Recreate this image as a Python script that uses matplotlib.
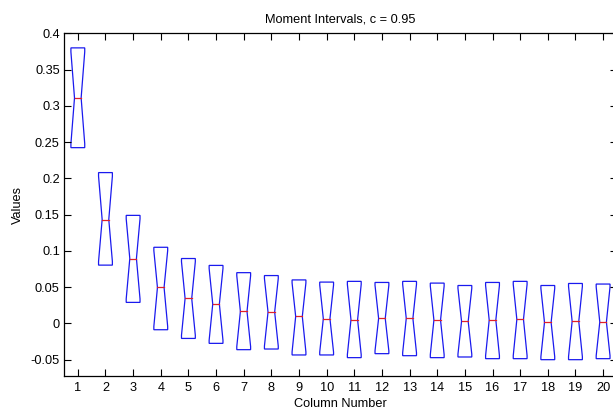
import matplotlib
matplotlib.use("Agg")
import matplotlib.pyplot as plt
from matplotlib.patches import Polygon

# data
columns = list(range(1, 21))
upper = [0.380, 0.208, 0.149, 0.105, 0.0895, 0.080, 0.070, 0.066, 0.060, 0.057,
         0.058, 0.0565, 0.058, 0.0556, 0.0523, 0.0565, 0.058, 0.0523, 0.0551, 0.0543]
median = [0.311, 0.1433, 0.0895, 0.0496, 0.0344, 0.0267, 0.0165, 0.0157, 0.0096, 0.0065,
          0.0051, 0.0069, 0.0069, 0.0046, 0.0028, 0.0046, 0.0055, 0.0014, 0.0028, 0.0019]
lower = [0.2424, 0.0804, 0.029, -0.0087, -0.0207, -0.0275, -0.0362, -0.0353, -0.0435, -0.0435,
         -0.0472, -0.0417, -0.0445, -0.0472, -0.0463, -0.0486, -0.0486, -0.050, -0.050, -0.0486]
yticks = [-0.05, 0, 0.05, 0.1, 0.15, 0.2, 0.25, 0.3, 0.35, 0.4]
ytick_labels = ['-0.05', '0', '0.05', '0.1', '0.15', '0.2', '0.25', '0.3', '0.35', '0.4']

plt.rcParams['font.family'] = ['Liberation Sans', 'DejaVu Sans']
fs = 9.2

fig = plt.figure(figsize=(6.13, 4.12), dpi=100)
ax = fig.add_axes([0.1044, 0.0874, 0.902, 0.8316])

w = 0.25    # half box width
nw = 0.12   # half width at the notch
for x, hi, md, lo in zip(columns, upper, median, lower):
    h = hi - lo
    pts = [(x - w, hi), (x + w, hi), (x + w, hi - 0.04 * h), (x + nw, md),
           (x + w, lo + 0.04 * h), (x + w, lo), (x - w, lo), (x - w, lo + 0.04 * h),
           (x - nw, md), (x - w, hi - 0.04 * h)]
    ax.add_patch(Polygon(pts, closed=True, fill=False, edgecolor='#1a1aee', lw=0.9))
    ax.plot([x - nw, x + nw], [md, md], color='#e0202a', lw=0.9)

ax.set_xlim(0.5, 20.5)
ax.set_ylim(-0.0725, 0.4)
ax.set_xticks(columns)
ax.set_yticks(yticks)
ax.set_yticklabels(ytick_labels)
ax.tick_params(direction='in', length=5, width=0.8, labelsize=fs,
               top=True, right=True, colors='black')
ax.tick_params(axis='x', pad=4)
ax.tick_params(axis='y', pad=3)
for s in ax.spines.values():
    s.set_linewidth(0.9)

ax.set_title('Moment Intervals, c = 0.95', fontsize=fs, pad=8)
ax.set_xlabel('Column Number', fontsize=fs, labelpad=3)
ax.set_ylabel('Values', fontsize=fs, labelpad=5)

fig.savefig('out.png', dpi=100)
